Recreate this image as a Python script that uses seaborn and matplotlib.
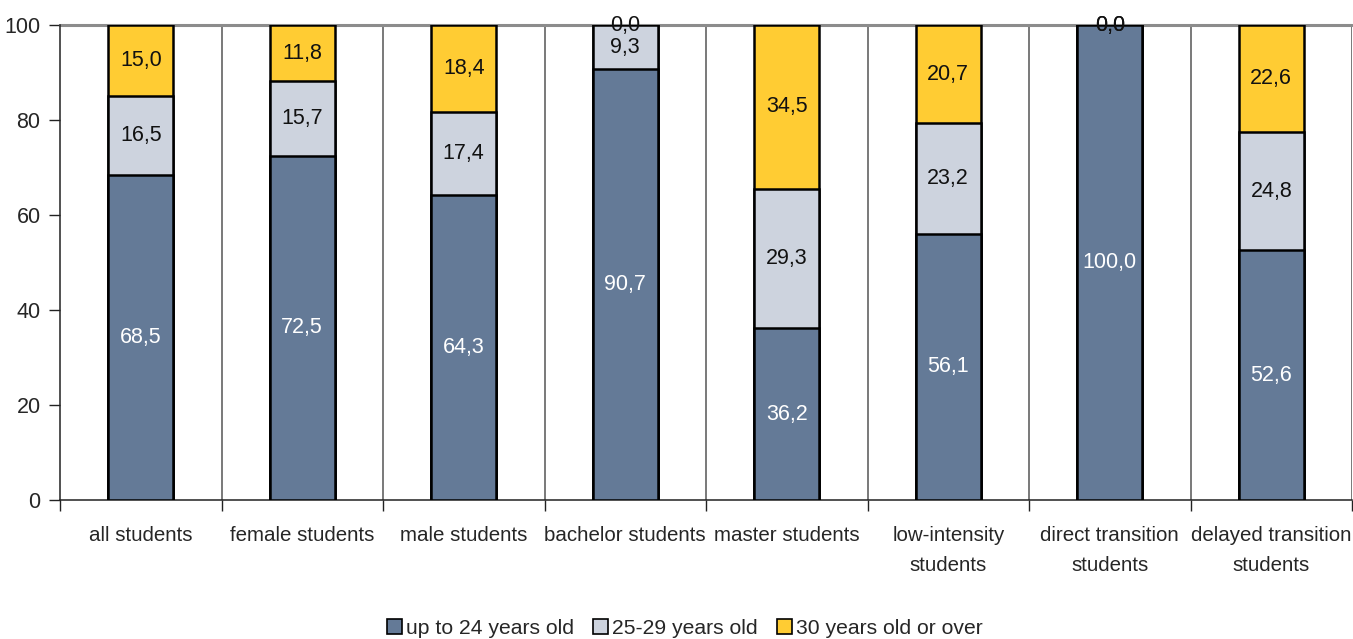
import matplotlib
matplotlib.use("Agg")
import matplotlib.pyplot as plt
from matplotlib.patches import Patch
from matplotlib.ticker import FixedLocator
import numpy as np
import pandas as pd
import seaborn as sns

sns.set_style("white")
plt.rcParams["font.family"] = ["Liberation Sans Narrow", "Liberation Sans", "DejaVu Sans"]

categories = [
    "all students", "female students", "male students", "bachelor students",
    "master students", "low-intensity\nstudents", "direct transition\nstudents",
    "delayed transition\nstudents",
]
series_names = ["up to 24 years old", "25-29 years old", "30 years old or over"]
up_to_24 = [68.5, 72.5, 64.3, 90.7, 36.2, 56.1, 100.0, 52.6]
age_25_29 = [16.5, 15.7, 17.4, 9.3, 29.3, 23.2, 0.0, 24.8]
age_30_plus = [15.0, 11.8, 18.4, 0.0, 34.5, 20.7, 0.0, 22.6]
y_ticks = [0, 20, 40, 60, 80, 100]

colors = ["#647A97", "#CDD3DE", "#FFCC33"]
text_colors = ["white", "#111111", "#111111"]

layers = [np.array(up_to_24), np.array(age_25_29), np.array(age_30_plus)]
cumulative = np.cumsum(layers, axis=0)
bottoms = cumulative - np.array(layers)

fig = plt.figure(figsize=(13.53, 6.39), dpi=100)
ax = fig.add_axes([60 / 1353, 1 - 500 / 639, 1 - 61 / 1353, 475 / 639])

# stacked bars: draw cumulative heights from the top layer down
for i in reversed(range(3)):
    df = pd.DataFrame({"cat": categories, "val": cumulative[i]})
    sns.barplot(data=df, x="cat", y="val", color=colors[i], width=0.4,
                edgecolor="black", linewidth=1.8, saturation=1, ax=ax, zorder=3)

# segment value labels
for i in range(3):
    for j, v in enumerate(layers[i]):
        y = bottoms[i][j] + v / 2
        ax.text(j, y, f"{v:.1f}".replace(".", ","), ha="center", va="center",
                color=text_colors[i], fontsize=15.5, zorder=5)

ax.set_xlim(-0.5, len(categories) - 0.5)
ax.set_ylim(0, 100)
ax.set_xlabel("")
ax.set_ylabel("")

# category separators and top border
for b in np.arange(0.5, len(categories), 1.0):
    ax.axvline(b, color="#555555", lw=1.1, zorder=1)
ax.axhline(100, color="#8c8c8c", lw=2.2, zorder=2, clip_on=False)

for s in ["top", "right"]:
    ax.spines[s].set_visible(False)
for s in ["left", "bottom"]:
    ax.spines[s].set_color("#222222")
    ax.spines[s].set_linewidth(1.1)

ax.set_yticks(y_ticks)
ax.set_yticklabels([str(t) for t in y_ticks], fontsize=15.5)
ax.tick_params(axis="y", length=8, width=1, color="#222222", pad=6, direction="out", left=True)

ax.set_xticks(range(len(categories)))
ax.set_xticklabels(categories, fontsize=14.8, linespacing=1.7, va="top")
ax.tick_params(axis="x", which="major", length=0, pad=19)
ax.xaxis.set_minor_locator(FixedLocator(np.arange(-0.5, len(categories), 1.0)))
ax.tick_params(axis="x", which="minor", length=8, width=1, color="#222222",
               direction="out", bottom=True)

handles = [Patch(facecolor=c, edgecolor="black", linewidth=1.2, label=n)
           for c, n in zip(colors, series_names)]
fig.legend(handles=handles, loc="center", bbox_to_anchor=(685 / 1353, 1 - 628 / 639),
           ncol=3, frameon=False, fontsize=15.2, handlelength=0.7, handleheight=0.7,
           handletextpad=0.2, columnspacing=0.9, borderaxespad=0)

fig.savefig("out.png", dpi=100)
